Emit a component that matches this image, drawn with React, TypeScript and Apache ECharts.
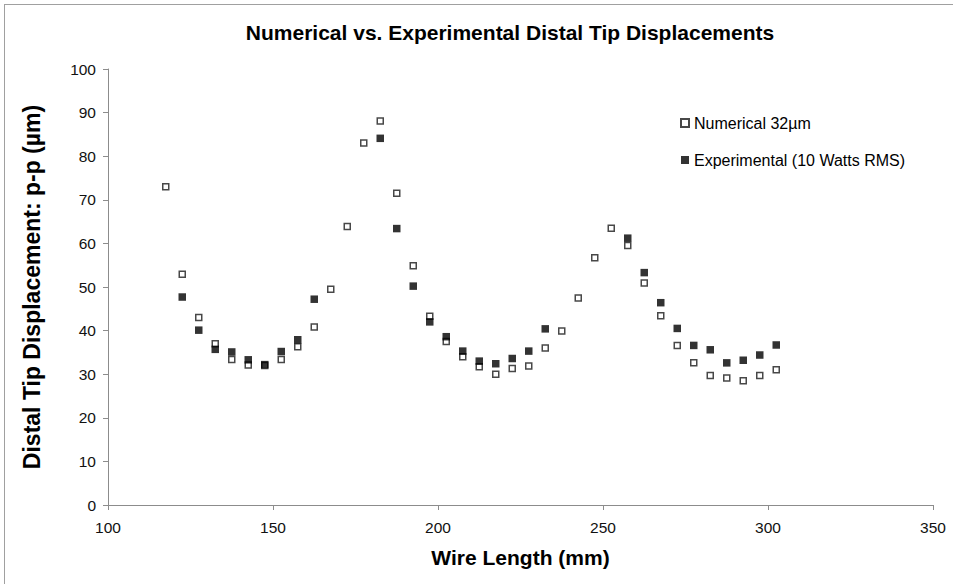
import React, { useEffect, useRef } from "react";
import * as echarts from "echarts";

const numericalX = [117.5, 122.5, 127.5, 132.5, 137.5, 142.5, 147.5, 152.5, 157.5, 162.5, 167.5, 172.5, 177.5, 182.5, 187.5, 192.5, 197.5, 202.5, 207.5, 212.5, 217.5, 222.5, 227.5, 232.5, 237.5, 242.5, 247.5, 252.5, 257.5, 262.5, 267.5, 272.5, 277.5, 282.5, 287.5, 292.5, 297.5, 302.5];
const numericalY = [73.0, 52.9, 43.0, 37.0, 33.4, 32.1, 32.0, 33.4, 36.3, 40.8, 49.5, 63.9, 83.0, 88.1, 71.5, 54.9, 43.3, 37.5, 34.0, 31.7, 30.0, 31.3, 31.9, 36.0, 39.9, 47.5, 56.7, 63.5, 59.5, 50.9, 43.4, 36.6, 32.6, 29.7, 29.1, 28.5, 29.7, 31.0];

const experimentalX = [122.5, 127.5, 132.5, 137.5, 142.5, 147.5, 152.5, 157.5, 162.5, 182.5, 187.5, 192.5, 197.5, 202.5, 207.5, 212.5, 217.5, 222.5, 227.5, 232.5, 257.5, 262.5, 267.5, 272.5, 277.5, 282.5, 287.5, 292.5, 297.5, 302.5];
const experimentalY = [47.7, 40.1, 35.7, 35.1, 33.3, 32.2, 35.2, 37.9, 47.2, 84.1, 63.4, 50.2, 42.0, 38.6, 35.3, 33.0, 32.4, 33.6, 35.3, 40.4, 61.2, 53.3, 46.4, 40.5, 36.6, 35.6, 32.6, 33.2, 34.4, 36.7];

const seriesNames = ["Numerical 32µm", "Experimental (10 Watts RMS)"];
const titleText = "Numerical vs. Experimental Distal Tip Displacements";
const xAxisName = "Wire Length (mm)";
const yAxisName = "Distal Tip Displacement: p-p (µm)";

const FONT = "'Liberation Sans', Arial, sans-serif";

export default function App() {
  const ref = useRef<HTMLDivElement>(null);
  useEffect(() => {
    document.body.style.margin = "0";
    const chart = echarts.init(ref.current!, undefined, { renderer: "svg" });
    chart.setOption({
      animation: false,
      backgroundColor: "#ffffff",
      textStyle: { fontFamily: FONT },
      title: {
        text: titleText,
        left: 505,
        textAlign: "center",
        top: 17,
        textStyle: { fontFamily: FONT, fontSize: 21, fontWeight: "bold", color: "#000" },
      },
      legend: {
        orient: "vertical",
        left: 675,
        top: 110,
        itemGap: 21,
        itemWidth: 8,
        itemHeight: 8,
        data: seriesNames,
        textStyle: { fontFamily: FONT, fontSize: 16, color: "#000" },
      },
      grid: { left: 108, right: 20, top: 69, bottom: 79 },
      xAxis: {
        type: "value",
        min: 100,
        max: 350,
        interval: 50,
        name: xAxisName,
        nameLocation: "middle",
        nameGap: 42,
        nameTextStyle: { fontFamily: FONT, fontSize: 21, fontWeight: "bold", color: "#000" },
        axisLine: { show: true, lineStyle: { color: "#8c8c8c", width: 1 } },
        axisTick: { show: true, length: 5, lineStyle: { color: "#8c8c8c" } },
        splitLine: { show: false },
        axisLabel: { fontFamily: FONT, fontSize: 15.5, color: "#111", margin: 14 },
      },
      yAxis: {
        type: "value",
        min: 0,
        max: 100,
        interval: 10,
        name: yAxisName,
        nameLocation: "middle",
        nameGap: 65,
        nameTextStyle: { fontFamily: FONT, fontSize: 23, fontWeight: "bold", color: "#000" },
        axisLine: { show: true, lineStyle: { color: "#8c8c8c", width: 1 } },
        axisTick: { show: true, length: 5, lineStyle: { color: "#8c8c8c" } },
        splitLine: { show: false },
        axisLabel: { fontFamily: FONT, fontSize: 15.5, color: "#111", margin: 12 },
      },
      graphic: [
        { type: "line", shape: { x1: 4, y1: 4.5, x2: 953, y2: 4.5 }, style: { stroke: "#a0a0a0", lineWidth: 1 } },
        { type: "line", shape: { x1: 4.5, y1: 4, x2: 4.5, y2: 584 }, style: { stroke: "#a0a0a0", lineWidth: 1 } },
      ],
      series: [
        {
          name: seriesNames[0],
          type: "scatter",
          symbol: "rect",
          symbolSize: 6,
          data: numericalX.map((x, i) => [x, numericalY[i]]),
          itemStyle: { color: "#ffffff", borderColor: "#1a1a1a", borderWidth: 1.5 },
          z: 2,
        },
        {
          name: seriesNames[1],
          type: "scatter",
          symbol: "rect",
          symbolSize: 7.5,
          data: experimentalX.map((x, i) => [x, experimentalY[i]]),
          itemStyle: { color: "#000000" },
          z: 3,
        },
      ],
    });
    return () => chart.dispose();
  }, []);
  return <div ref={ref} style={{ position: "absolute", left: 0, top: 0, width: 953, height: 584 }} />;
}
